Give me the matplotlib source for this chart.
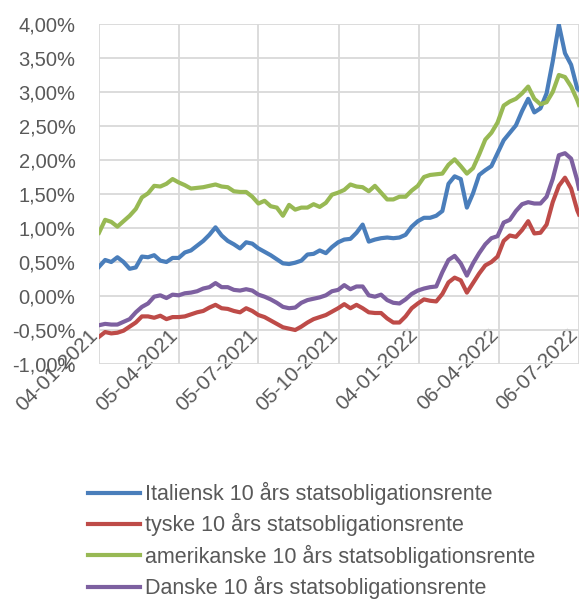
import matplotlib
matplotlib.use("Agg")
import matplotlib.pyplot as plt
import matplotlib.ticker as mticker
import matplotlib.transforms as mtransforms
import pandas as pd

# weekly readings (in %) from 04-01-2021 to 06-07-2022
dates = list(pd.date_range("2021-01-04", "2022-07-04", freq="7D")) + [pd.Timestamp("2022-07-06")]

italien = [0.43, 0.53, 0.50, 0.57, 0.50, 0.40, 0.42, 0.58, 0.57, 0.60,
           0.52, 0.50, 0.56, 0.56, 0.64, 0.67, 0.74, 0.81, 0.90, 1.01,
           0.89, 0.81, 0.76, 0.70, 0.79, 0.77, 0.70, 0.65, 0.60, 0.54,
           0.48, 0.47, 0.49, 0.52, 0.61, 0.62, 0.67, 0.63, 0.72, 0.79,
           0.83, 0.84, 0.93, 1.05, 0.80, 0.83, 0.85, 0.86, 0.85, 0.86,
           0.90, 1.02, 1.10, 1.15, 1.15, 1.18, 1.25, 1.65, 1.76, 1.72,
           1.30, 1.51, 1.78, 1.85, 1.91, 2.10, 2.29, 2.40, 2.51, 2.72,
           2.90, 2.70, 2.76, 2.98, 3.45, 3.99, 3.57, 3.40, 3.05, 3.03]

tyskland = [-0.60, -0.53, -0.55, -0.54, -0.51, -0.45, -0.39, -0.30, -0.30, -0.32,
            -0.29, -0.34, -0.31, -0.31, -0.30, -0.27, -0.24, -0.22, -0.17, -0.13,
            -0.18, -0.19, -0.22, -0.24, -0.18, -0.22, -0.28, -0.31, -0.36, -0.41,
            -0.46, -0.48, -0.50, -0.45, -0.39, -0.34, -0.31, -0.28, -0.23, -0.18,
            -0.12, -0.18, -0.13, -0.18, -0.24, -0.25, -0.25, -0.33, -0.39, -0.39,
            -0.30, -0.18, -0.11, -0.05, -0.07, -0.08, 0.03, 0.20, 0.27, 0.23,
            0.05, 0.19, 0.33, 0.45, 0.50, 0.58, 0.81, 0.89, 0.87, 0.97,
            1.10, 0.92, 0.93, 1.05, 1.38, 1.62, 1.74, 1.58, 1.26, 1.20]

usa = [0.93, 1.12, 1.09, 1.02, 1.10, 1.18, 1.28, 1.45, 1.51, 1.62,
       1.61, 1.65, 1.72, 1.67, 1.63, 1.58, 1.59, 1.60, 1.62, 1.64,
       1.61, 1.60, 1.54, 1.53, 1.53, 1.46, 1.36, 1.40, 1.32, 1.30,
       1.18, 1.34, 1.27, 1.30, 1.30, 1.35, 1.31, 1.37, 1.49, 1.52,
       1.56, 1.64, 1.61, 1.60, 1.54, 1.62, 1.52, 1.42, 1.42, 1.46,
       1.46, 1.55, 1.62, 1.75, 1.78, 1.79, 1.80, 1.93, 2.01, 1.91,
       1.80, 1.88, 2.08, 2.30, 2.40, 2.55, 2.80, 2.86, 2.90, 2.98,
       3.08, 2.90, 2.82, 2.85, 3.00, 3.25, 3.22, 3.08, 2.88, 2.81]

danmark = [-0.43, -0.41, -0.42, -0.42, -0.38, -0.34, -0.24, -0.16, -0.11, -0.01,
           0.01, -0.03, 0.02, 0.01, 0.04, 0.05, 0.07, 0.11, 0.13, 0.19,
           0.13, 0.13, 0.09, 0.08, 0.10, 0.08, 0.02, -0.01, -0.05, -0.10,
           -0.16, -0.18, -0.17, -0.10, -0.06, -0.04, -0.02, 0.01, 0.07, 0.09,
           0.16, 0.10, 0.14, 0.14, 0.01, -0.01, 0.02, -0.06, -0.10, -0.11,
           -0.05, 0.03, 0.08, 0.11, 0.13, 0.14, 0.35, 0.53, 0.59, 0.48,
           0.30, 0.48, 0.63, 0.76, 0.85, 0.88, 1.08, 1.12, 1.25, 1.35,
           1.38, 1.36, 1.36, 1.46, 1.72, 2.07, 2.10, 2.02, 1.70, 1.58]

labels = ["Italiensk 10 års statsobligationsrente",
          "tyske 10 års statsobligationsrente",
          "amerikanske 10 års statsobligationsrente",
          "Danske 10 års statsobligationsrente"]
colors = ["#4A7EBB", "#BE4B48", "#98B954", "#7D60A0"]

tick_dates = pd.to_datetime(["2021-01-04", "2021-04-05", "2021-07-05", "2021-10-05",
                             "2022-01-04", "2022-04-06", "2022-07-06"])

plt.rcParams['font.family'] = ['Liberation Sans', 'DejaVu Sans']
txt = "#595959"
grid = "#D9D9D9"

fig = plt.figure(figsize=(5.84, 5.99), dpi=100)
ax = fig.add_axes([99/584, 1 - 364/599, 480/584, 340/599])

for vals, lab, col in zip([italien, tyskland, usa, danmark], labels, colors):
    ax.plot(dates, vals, color=col, lw=3, label=lab, solid_joinstyle='round')

ax.set_xlim(tick_dates[0], tick_dates[-1])
ax.set_ylim(-1.0, 4.0)
ax.set_yticks([-1.0, -0.5, 0.0, 0.5, 1.0, 1.5, 2.0, 2.5, 3.0, 3.5, 4.0])
ax.yaxis.set_major_formatter(mticker.FuncFormatter(lambda v, p: f"{v:.2f}%".replace(".", ",")))
ax.set_xticks(tick_dates)
ax.set_xticklabels([d.strftime("%d-%m-%Y") for d in tick_dates])

ax.grid(True, color=grid, lw=1.3)
ax.set_axisbelow(True)
for s in ax.spines.values():
    s.set_visible(False)

ax.tick_params(axis='y', length=0, pad=17, labelsize=14.5, labelcolor=txt)
ax.tick_params(axis='x', length=0, pad=-23, labelsize=15, labelcolor=txt)
shift = mtransforms.ScaledTranslation(-4/100, 0, fig.dpi_scale_trans)
for lbl in ax.get_xticklabels():
    lbl.set_rotation(45)
    lbl.set_rotation_mode('anchor')
    lbl.set_ha('right')
    lbl.set_va('center')
    lbl.set_transform(lbl.get_transform() + shift)

leg = fig.legend(loc='upper left', bbox_to_anchor=(88/584, 1 - 482/599), frameon=False,
                 fontsize=15.5, handlelength=2.4, handletextpad=0.25, labelspacing=0.38,
                 borderpad=0, borderaxespad=0)
for t in leg.get_texts():
    t.set_color(txt)
for h in leg.get_lines():
    h.set_linewidth(3)

fig.savefig("out.png", dpi=100)
